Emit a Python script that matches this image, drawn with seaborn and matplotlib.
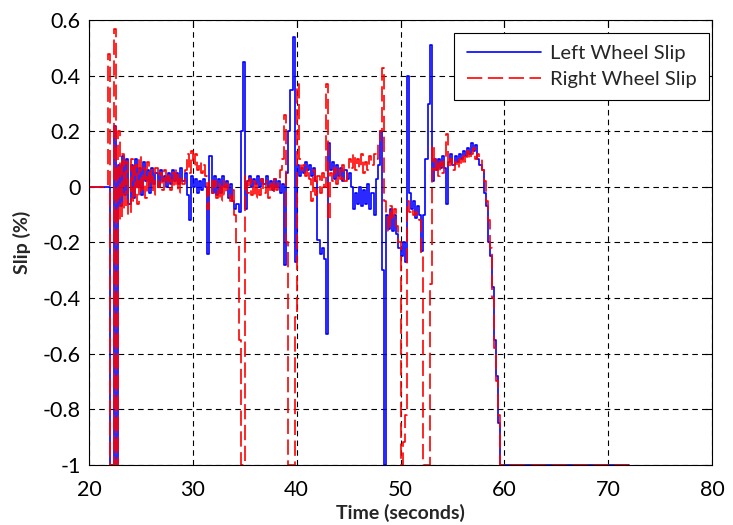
import numpy as np
import pandas as pd
import matplotlib
matplotlib.use("Agg")
import matplotlib.pyplot as plt
import seaborn as sns

# Wheel slip log, sampled every 0.2 s from 20 s to 60 s, then held until 72 s
sample_step = 0.2
t_start = 20.0
t_end_hold = 72.0

left_slip = [
    0, 0, 0, 0, 0, 0, 0, 0, 0, 0,
    -1.00, -1.00, 0.22, -1.00, 0.08, -0.07, 0.11, -0.03, 0.10, -0.06,
    0.08, -0.04, 0.10, 0.00, 0.07, -0.03, 0.09, 0.02, 0.06, -0.02,
    0.07, 0.01, 0.05, 0.00, 0.06, 0.02, 0.04, 0.00, 0.05, 0.01,
    0.06, 0.02, 0.05, 0.01, 0.07, 0.02, 0.05, -0.03, -0.12, 0.04,
    0.00, 0.03, -0.02, 0.02, -0.01, 0.03, 0.00, -0.24, 0.11, -0.02,
    0.04, -0.03, 0.03, -0.02, 0.04, 0.00, 0.02, -0.04, 0.01, -0.05,
    -0.08, -0.06, -0.09, 0.20, 0.45, -0.08, 0.02, 0.04, 0.00, 0.03,
    0.01, 0.04, 0.00, 0.03, 0.01, 0.04, 0.00, 0.02, -0.01, 0.03,
    0.00, 0.02, -0.02, 0.01, -0.28, 0.05, 0.20, 0.35, 0.54, -0.27,
    0.08, 0.04, 0.07, 0.05, 0.09, 0.06, 0.08, 0.04, 0.07, 0.02,
    -0.19, -0.24, -0.22, -0.26, -0.53, 0.16, 0.06, 0.09, 0.03, 0.08,
    0.04, 0.07, 0.02, 0.06, 0.03, 0.05, 0.00, -0.08, -0.02, -0.06,
    0.00, -0.07, -0.01, -0.06, 0.01, -0.08, -0.02, -0.10, 0.03, 0.08,
    0.20, -0.30, -1.00, -0.10, -0.15, -0.08, -0.16, -0.10, -0.17, -0.22,
    -0.25, -0.20, -0.27, 0.40, -0.02, -0.08, -0.05, -0.11, -0.07, -0.10,
    -0.23, -0.10, 0.10, 0.30, 0.51, 0.02, 0.10, 0.06, 0.10, 0.07,
    0.11, 0.07, -0.06, 0.09, 0.12, 0.08, 0.11, 0.09, 0.12, 0.10,
    0.13, 0.11, 0.14, 0.12, 0.16, 0.13, 0.15, 0.10, 0.08, 0.06,
    -0.02, -0.07, -0.20, -0.25, -0.36, -0.55, -0.68, -0.85, -1.00, -1.00,
    -1.00, -1.00,
]

right_slip = [
    0, 0, 0, 0, 0, 0, 0, 0, 0, 0.48,
    -1.00, -1.00, 0.57, -1.00, 0.20, -0.12, 0.12, -0.08, 0.09, -0.10,
    0.10, -0.05, 0.08, -0.06, 0.11, -0.02, 0.07, -0.04, 0.09, 0.00,
    0.06, -0.03, 0.07, 0.00, 0.05, -0.01, 0.06, 0.01, 0.04, -0.01,
    0.05, 0.00, 0.06, -0.02, 0.04, 0.01, 0.06, 0.12, 0.05, 0.13,
    0.08, 0.12, 0.06, 0.09, 0.05, 0.08, 0.04, -0.08, 0.03, -0.02,
    0.02, -0.04, 0.01, -0.05, 0.02, -0.03, 0.01, -0.02, -0.05, -0.01,
    -0.10, -0.21, -0.55, -1.00, -1.00, 0.04, -0.02, 0.03, -0.03, 0.02,
    -0.04, 0.01, -0.03, 0.03, -0.02, 0.02, -0.04, 0.01, -0.02, 0.03,
    -0.01, 0.02, 0.06, 0.10, 0.26, -0.20, -1.00, -1.00, -1.00, -0.47,
    0.37, 0.10, 0.06, 0.08, 0.04, 0.07, 0.03, -0.05, 0.06, -0.03,
    0.04, -0.02, 0.05, 0.00, 0.37, -0.12, 0.05, 0.02, 0.07, 0.01,
    0.06, 0.03, 0.08, 0.02, 0.05, 0.10, 0.07, 0.12, 0.06, 0.10,
    0.07, 0.12, 0.05, 0.09, 0.06, 0.11, 0.08, 0.12, 0.10, 0.16,
    0.20, 0.43, -0.05, -0.10, -0.16, -0.07, -0.12, -0.08, -0.14, -0.20,
    -1.00, -0.92, -0.82, -0.05, -0.09, -0.08, -0.10, -0.09, -0.10, -0.12,
    -0.25, -1.00, -1.00, -1.00, -0.35, 0.15, 0.06, 0.10, 0.04, 0.09,
    0.05, 0.10, 0.19, 0.07, 0.10, 0.06, 0.09, 0.07, 0.10, 0.08,
    0.11, 0.09, 0.13, 0.10, 0.12, 0.14, 0.10, 0.12, 0.10, 0.06,
    0.02, -0.05, -0.12, -0.22, -0.40, -0.58, -0.70, -0.82, -1.00, -1.00,
    -1.00, -1.00,
]

series_labels = ["Left Wheel Slip", "Right Wheel Slip"]
x_ticks = [20, 30, 40, 50, 60, 70, 80]
y_ticks = [-1.0, -0.8, -0.6, -0.4, -0.2, 0.0, 0.2, 0.4, 0.6]
y_tick_labels = ["-1", "-0.8", "-0.6", "-0.4", "-0.2", "0", "0.2", "0.4", "0.6"]

n_samples = len(left_slip) - 1
time = np.append(np.round(t_start + sample_step * np.arange(n_samples), 1), t_end_hold)
df = pd.DataFrame({"time": time, "left": left_slip, "right": right_slip})

sns.set_style("white")
plt.rcParams["font.family"] = ["Lato", "DejaVu Sans"]
plt.rcParams["axes.unicode_minus"] = False
plt.rcParams["lines.scale_dashes"] = False

fig = plt.figure(figsize=(7.33, 5.25), dpi=100)
ax = fig.add_axes([0.1214, 0.1152, 0.8500, 0.8458])

sns.lineplot(data=df, x="time", y="left", ax=ax, color="#0000ff", lw=1.2,
             drawstyle="steps-post", estimator=None, sort=False,
             label=series_labels[0])
sns.lineplot(data=df, x="time", y="right", ax=ax, color="#ff0000", lw=1.2,
             drawstyle="steps-post", estimator=None, sort=False,
             linestyle=(0, (11, 4)), label=series_labels[1])

ax.set_xlim(20, 80)
ax.set_ylim(-1, 0.6)
ax.set_xticks(x_ticks)
ax.set_yticks(y_ticks)
ax.set_yticklabels(y_tick_labels)

ax.set_axisbelow(True)
ax.grid(True, color="black", linestyle=(0, (4, 3)), lw=0.8)
for s in ax.spines.values():
    s.set_color("black")
    s.set_linewidth(0.8)
ax.tick_params(direction="in", length=5, width=0.8, top=True, right=True,
               labelsize=15.5, colors="black")
ax.tick_params(axis="y", pad=6)
ax.tick_params(axis="x", pad=11)

ax.set_xlabel("Time (seconds)", fontsize=14, fontweight="bold", labelpad=3)
ax.set_ylabel("Slip (%)", fontsize=14, fontweight="bold", labelpad=8)

leg = ax.legend(loc="upper right", bbox_to_anchor=(0.995, 0.972),
                borderaxespad=0, frameon=True, fancybox=False,
                edgecolor="black", framealpha=1, fontsize=14.5,
                handlelength=3.7, handletextpad=0.45, borderpad=0.6,
                labelspacing=0.45)
leg.get_frame().set_linewidth(0.8)

fig.savefig("out.png", dpi=100)
